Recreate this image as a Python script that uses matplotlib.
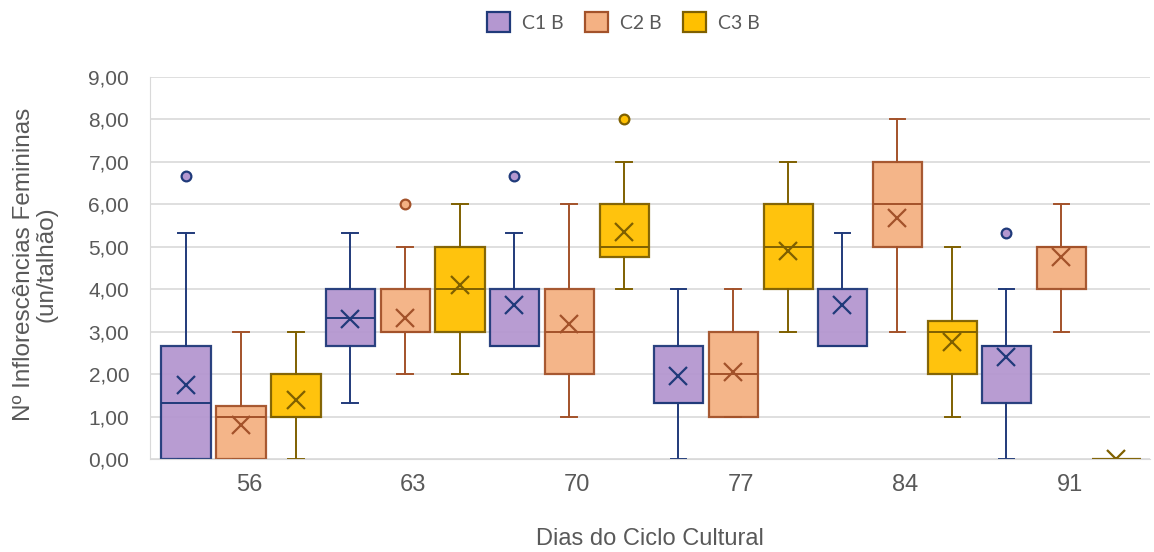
import matplotlib.pyplot as plt
from matplotlib.patches import Patch
from matplotlib.ticker import FuncFormatter

days = ['56', '63', '70', '77', '84', '91']
series = ['C1 B', 'C2 B', 'C3 B']

c1_lo = [0, 1.33, 2.67, 0, 2.67, 0]
c1_q1 = [0, 2.67, 2.67, 1.33, 2.67, 1.33]
c1_med = [1.33, 3.33, 2.67, 1.33, 2.67, 2.67]
c1_q3 = [2.67, 4, 4, 2.67, 4, 2.67]
c1_hi = [5.33, 5.33, 5.33, 4, 5.33, 4]
c1_mean = [1.75, 3.3, 3.63, 1.96, 3.63, 2.4]
c1_out = [[6.67], [], [6.67], [], [], [5.33]]

c2_lo = [0, 2, 1, 1, 3, 3]
c2_q1 = [0, 3, 2, 1, 5, 4]
c2_med = [1, 3, 3, 2, 6, 5]
c2_q3 = [1.25, 4, 4, 3, 7, 5]
c2_hi = [3, 5, 6, 4, 8, 6]
c2_mean = [0.8, 3.33, 3.18, 2.05, 5.68, 4.75]
c2_out = [[], [6], [], [], [], []]

c3_lo = [0, 2, 4, 3, 1, 0]
c3_q1 = [1, 3, 4.75, 4, 2, 0]
c3_med = [1, 4, 5, 5, 3, 0]
c3_q3 = [2, 5, 6, 6, 3.25, 0]
c3_hi = [3, 6, 7, 7, 5, 0]
c3_mean = [1.4, 4.1, 5.35, 4.9, 2.76, 0]
c3_out = [[], [], [8], [], [], []]

fills = ['#b497d0', '#f4b183', '#ffc000']
edges = ['#203a7a', '#a3522a', '#7f6000']

data = [
    (c1_lo, c1_q1, c1_med, c1_q3, c1_hi, c1_mean, c1_out),
    (c2_lo, c2_q1, c2_med, c2_q3, c2_hi, c2_mean, c2_out),
    (c3_lo, c3_q1, c3_med, c3_q3, c3_hi, c3_mean, c3_out),
]

plt.rcParams['font.family'] = ['Liberation Sans', 'DejaVu Sans']

fig = plt.figure(figsize=(11.54, 5.52), dpi=100)
ax = fig.add_axes([150 / 1154, 93 / 552, 1000 / 1154, 382 / 552])

offsets = [-0.335, 0, 0.335]
for k, (lo, q1, med, q3, hi, mean, out) in enumerate(data):
    stats = []
    for i in range(len(days)):
        stats.append(dict(whislo=lo[i], q1=q1[i], med=med[i], q3=q3[i],
                          whishi=hi[i], mean=mean[i], fliers=out[i]))
    pos = [i + offsets[k] for i in range(len(days))]
    ec = edges[k]
    ax.bxp(stats, positions=pos, widths=0.30, patch_artist=True,
           showmeans=True, manage_ticks=False,
           boxprops=dict(facecolor=fills[k], edgecolor=ec, linewidth=1.6, alpha=0.95),
           medianprops=dict(color=ec, linewidth=1.4),
           whiskerprops=dict(color=ec, linewidth=1.4),
           capprops=dict(color=ec, linewidth=1.4),
           capwidths=0.095,
           meanprops=dict(marker='x', markeredgecolor=ec, markersize=13,
                          markeredgewidth=1.6),
           flierprops=dict(marker='o', markerfacecolor=fills[k],
                           markeredgecolor=ec, markersize=7, markeredgewidth=1.6))

ax.set_xlim(-0.555, 5.54)
ax.set_ylim(0, 9)
ax.set_yticks(range(0, 10))
ax.yaxis.set_major_formatter(FuncFormatter(lambda v, p: f'{v:.2f}'.replace('.', ',')))
ax.set_xticks([i + 0.05 for i in range(len(days))])
ax.set_xticklabels(days)
ax.tick_params(axis='both', length=0, colors='#595959')
ax.tick_params(axis='y', labelsize=15, pad=15)
ax.tick_params(axis='x', labelsize=17, pad=11)
ax.grid(axis='y', color='#d9d9d9', linewidth=1.2)
ax.set_axisbelow(True)
for s in ['top', 'right']:
    ax.spines[s].set_visible(False)
ax.spines['left'].set_color('#d9d9d9')
ax.spines['bottom'].set_color('#d9d9d9')

ax.set_ylabel('Nº Inflorescências Femininas\n(un/talhão)', fontsize=17.5,
              color='#595959', linespacing=1.0)
ax.yaxis.set_label_coords(-0.093, 0.51)
ax.set_xlabel('Dias do Ciclo Cultural', fontsize=17, color='#595959')
ax.xaxis.set_label_coords(0.5, -0.18)

handles = [Patch(facecolor=fills[k], edgecolor=edges[k], linewidth=1.6)
           for k in range(3)]
fig.legend(handles, series, loc='center', bbox_to_anchor=(623 / 1154, 1 - 22 / 552),
           ncol=3, frameon=False, handlelength=1.2, handleheight=1.2,
           columnspacing=1.1, handletextpad=0.6, labelcolor='#595959',
           prop={'family': ['Lato', 'DejaVu Sans'], 'size': 14})

fig.savefig('out.png', dpi=100)
